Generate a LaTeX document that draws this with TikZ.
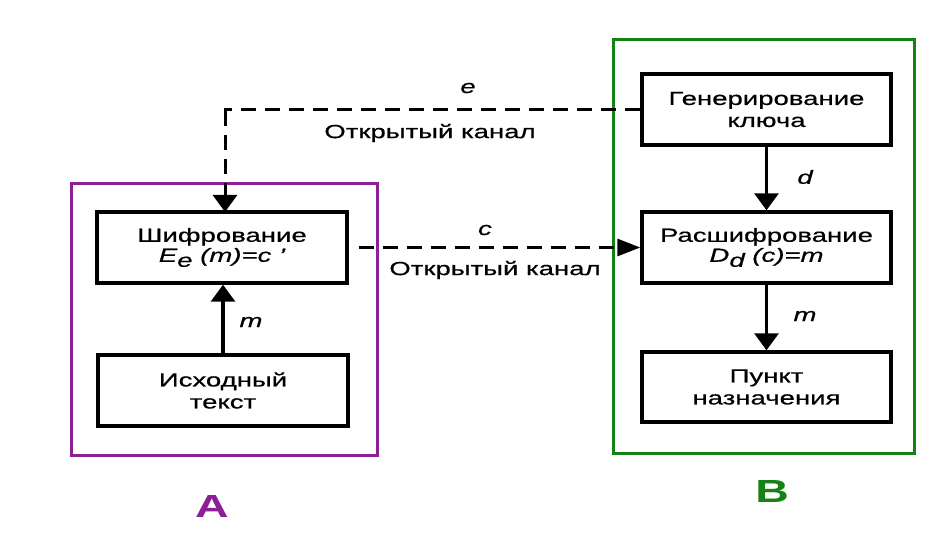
\documentclass[tikz,border=0pt]{standalone}
\usepackage{fontspec}
\setmainfont{Liberation Sans}[FakeStretch=1.45, FakeBold=0.6]
\newfontfamily\labfont{Liberation Sans}[FakeStretch=1.45]
\usetikzlibrary{arrows.meta}
\definecolor{apurple}{RGB}{140,30,150}
\definecolor{bgreen}{RGB}{20,130,20}
\tikzset{
  box/.style={draw, line width=3.4pt, minimum width=250pt, minimum height=71pt, align=center, inner sep=0pt, font=\fontsize{19}{22}\selectfont},
  lbl/.style={font=\fontsize{19}{22}\selectfont, inner sep=0pt},
  tipv/.style={-{Triangle[length=17pt,width=24pt]}},
  tiph/.style={-{Triangle[length=23pt,width=17pt]}},
  arr/.style={line width=3.2pt, tipv},
  darr/.style={line width=3pt, dash pattern=on 15pt off 9pt},
  frame/.style={line width=3pt}
}
\begin{document}
\begin{tikzpicture}[x=1pt,y=-1pt]
\useasboundingbox[fill=white] (0,0) rectangle (952,534);
% frames
\draw[frame, apurple] (71,184) rectangle (377,455);
\draw[frame, bgreen] (613,40) rectangle (914,453);
% boxes
\node[box] (enc) at (222,247.5) {Шифрование\\[-2pt]\itshape E\raisebox{-5pt}{e} (m)=c '};
\node[box] (src) at (223,390.5) {Исходный\\текст};
\node[box, minimum width=249pt] (gen) at (766.5,109.5) {Генерирование\\ключа};
\node[box, minimum width=249pt] (dec) at (766.5,247.5) {Расшифрование\\[-2pt]\itshape D\raisebox{-5pt}{d} (c)=m};
\node[box, minimum width=249pt, minimum height=70pt] (dst) at (766.5,387) {Пункт\\назначения};
% connectors
\coordinate (corner) at (225,111);
\draw[darr] (gen.west) -- (gen.west -| corner) -- (corner);
\draw[darr, tipv] (corner) -- (225,212);
\draw[darr, tiph] (enc.east) ++(10,0) -- (dec.west);
\draw[arr] (src.north) -- (src.north |- enc.south);
\draw[arr] (gen.south) -- (dec.north);
\draw[arr] (dec.south) -- (dst.north);
% labels
\node[lbl] (le) at (468,88) {\itshape e};
\node[lbl] (ch1) at (430,133) {Открытый канал};
\node[lbl] (lc) at (485,230) {\itshape c};
\node[lbl] (ch2) at (495,270) {Открытый канал};
\node[lbl] (lm1) at (251,322) {\itshape m};
\node[lbl] (ld) at (805,177) {\itshape d};
\node[lbl] (lm2) at (805,316) {\itshape m};
\node[font=\labfont\fontsize{32}{36}\selectfont\bfseries, text=apurple, inner sep=0pt] (la) at (212,506) {A};
\node[font=\labfont\fontsize{32}{36}\selectfont\bfseries, text=bgreen, inner sep=0pt] (lb) at (772,491) {B};
\end{tikzpicture}
\end{document}
